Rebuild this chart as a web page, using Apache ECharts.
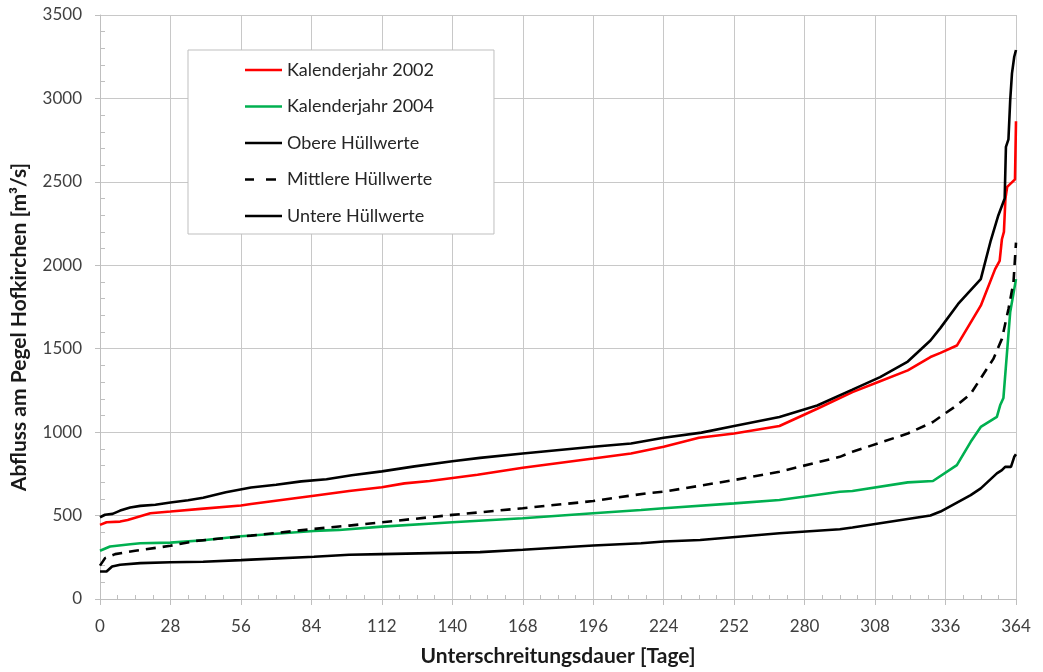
<!DOCTYPE html>
<html>
<head>
<meta charset="utf-8">
<script src="https://cdn.jsdelivr.net/npm/echarts@6/dist/echarts.min.js"></script>
<style>
html,body{margin:0;padding:0;background:#fff;}
#chart{width:1043px;height:672px;}
</style>
</head>
<body>
<div id="chart"></div>
<script>
// ---- Data ----
var xTicks = [0, 28, 56, 84, 112, 140, 168, 196, 224, 252, 280, 308, 336, 364];

var seriesNames = ['Kalenderjahr 2002', 'Kalenderjahr 2004', 'Obere Hüllwerte', 'Mittlere Hüllwerte', 'Untere Hüllwerte'];

var days2002   = [0, 2.6, 8, 11, 20, 28, 40, 56, 60, 85, 99, 112, 121, 131, 150, 168, 196, 211, 224, 238, 252, 270, 285, 299, 310, 321, 330, 334, 340.5, 350, 355.7, 357.5, 358.4, 359.2, 359.8, 360.5, 363.6, 364];
var values2002 = [444, 460, 464, 474, 514, 524, 540, 560, 569, 619, 647, 670, 693, 707, 745, 787, 842, 872, 912, 966, 992, 1037, 1140, 1240, 1305, 1370, 1450, 1475, 1519, 1758, 1977, 2027, 2156, 2200, 2400, 2470, 2515, 2863];

var days2004   = [0, 4, 12, 16, 28, 41, 56, 85, 95, 112, 140, 168, 196, 215, 224, 252, 270, 294, 299, 321, 331, 340.5, 346, 350, 356.4, 357.7, 359, 361.7, 364];
var values2004 = [289, 315, 328, 334, 338, 352, 376, 408, 414, 434, 460, 484, 514, 533, 544, 573, 593, 643, 647, 699, 707, 802, 942, 1031, 1091, 1161, 1205, 1720, 1917];

var daysObere   = [0, 2, 5, 8, 12, 16, 22, 28, 35, 41, 50, 60, 70, 80, 90, 100, 112, 125, 140, 151, 168, 196, 211, 224, 239, 252, 270, 285, 299, 310, 321, 330, 334, 341, 350, 354, 357, 359.5, 360, 361, 361.7, 362.4, 363.3, 364];
var valuesObere = [490, 505, 510, 530, 548, 558, 565, 578, 592, 607, 640, 668, 685, 705, 718, 742, 765, 795, 826, 846, 872, 912, 932, 966, 997, 1037, 1091, 1160, 1255, 1330, 1423, 1549, 1625, 1768, 1917, 2150, 2300, 2400, 2710, 2755, 2990, 3150, 3250, 3290];

var daysMittlere   = [0, 0.7, 2, 6, 14, 28, 38, 56, 60, 85, 99, 112, 140, 168, 196, 217, 224, 252, 270, 294, 299, 321, 331, 340.5, 346, 355, 358.4, 361, 363, 364];
var valuesMittlere = [200, 205, 245, 269, 289, 319, 348, 374, 380, 420, 440, 460, 504, 544, 587, 633, 643, 713, 763, 852, 882, 992, 1061, 1161, 1230, 1439, 1559, 1738, 1897, 2136];

var daysUntere   = [0, 2.6, 4.8, 8, 16, 28, 41, 56, 60, 85, 99, 112, 151, 168, 196, 215, 224, 238.5, 270, 294, 299, 330, 334, 346, 350, 356.4, 358.4, 359.7, 362, 363.3, 364];
var valuesUntere = [165, 165, 195, 205, 215, 220, 223, 233, 236, 253, 265, 269, 281, 295, 321, 334, 345, 354, 394, 418, 428, 500, 524, 623, 663, 753, 772, 792, 792, 852, 868];

function pairs(xs, ys) { return xs.map(function (x, i) { return [x, ys[i]]; }); }

var FONT = 'Lato';
var SOLID_ICON = 'path://M0,0H37V2.6H0Z';
var DASH_ICON = 'path://M0,0H9V2.6H0Z M21,0H31V2.6H21Z M36.95,1.25H37V1.35H36.95Z';

var chart = echarts.init(document.getElementById('chart'), null, {renderer: 'canvas'});

function lineSeries(name, xs, ys, color, type) {
  return {
    name: name,
    type: 'line',
    data: pairs(xs, ys),
    symbol: 'none',
    smooth: false,
    color: color,
    lineStyle: {color: color, width: 2.6, type: type || 'solid'},
    itemStyle: {color: color},
    emphasis: {disabled: true},
    z: 3
  };
}

var option = {
  backgroundColor: '#ffffff',
  animation: false,
  textStyle: {fontFamily: FONT},
  grid: {left: 100, right: 27, top: 15, bottom: 71, containLabel: false},
  legend: {
    orient: 'vertical',
    left: 188,
    top: 50,
    data: [
      {name: seriesNames[0], icon: SOLID_ICON},
      {name: seriesNames[1], icon: SOLID_ICON},
      {name: seriesNames[2], icon: SOLID_ICON},
      {name: seriesNames[3], icon: DASH_ICON},
      {name: seriesNames[4], icon: SOLID_ICON}
    ],
    symbolKeepAspect: false,
    backgroundColor: '#ffffff',
    borderColor: '#bfbfbf',
    borderWidth: 1,
    padding: [10, 60, 8, 57],
    itemWidth: 37,
    itemHeight: 2.6,
    itemGap: 16.5,
    textStyle: {fontFamily: FONT, fontSize: 18, color: '#262626', lineHeight: 20},
    selectedMode: false
  },
  xAxis: {
    type: 'value',
    min: 0,
    max: 364,
    interval: 28,
    name: 'Unterschreitungsdauer [Tage]',
    nameLocation: 'middle',
    nameGap: 47,
    nameTextStyle: {fontFamily: FONT, fontSize: 21, fontWeight: 'bold', color: '#1a1a1a'},
    axisLine: {show: true, lineStyle: {color: '#bfbfbf', width: 1}},
    axisTick: {show: true, length: 6, lineStyle: {color: '#bfbfbf'}},
    minorTick: {show: true, splitNumber: 4, length: -4, lineStyle: {color: '#bfbfbf'}},
    axisLabel: {fontFamily: FONT, fontSize: 17, color: '#404040', margin: 19,
      formatter: function (v) { return xTicks.indexOf(v) >= 0 ? String(v) : ''; }},
    splitLine: {show: true, lineStyle: {color: '#c8c8c8', width: 1}}
  },
  yAxis: {
    type: 'value',
    min: 0,
    max: 3500,
    interval: 500,
    name: 'Abfluss am Pegel Hofkirchen [m³/s]',
    nameLocation: 'middle',
    nameGap: 70,
    nameTextStyle: {fontFamily: FONT, fontSize: 21, fontWeight: 'bold', color: '#1a1a1a', padding: [0, 40, 0, 0]},
    axisLine: {show: true, lineStyle: {color: '#bfbfbf', width: 1}},
    axisTick: {show: true, length: 5, lineStyle: {color: '#bfbfbf'}},
    minorTick: {show: true, splitNumber: 5, length: -5, lineStyle: {color: '#bfbfbf'}},
    axisLabel: {fontFamily: FONT, fontSize: 17, color: '#404040', margin: 18,
      formatter: function (v) { return String(v); }},
    splitLine: {show: true, lineStyle: {color: '#c8c8c8', width: 1}}
  },
  series: [
    lineSeries(seriesNames[0], days2002, values2002, '#ff0000'),
    lineSeries(seriesNames[1], days2004, values2004, '#00b050'),
    lineSeries(seriesNames[2], daysObere, valuesObere, '#000000'),
    lineSeries(seriesNames[3], daysMittlere, valuesMittlere, '#000000', [10, 7]),
    lineSeries(seriesNames[4], daysUntere, valuesUntere, '#000000')
  ]
};
chart.setOption(option);
</script>
</body>
</html>
